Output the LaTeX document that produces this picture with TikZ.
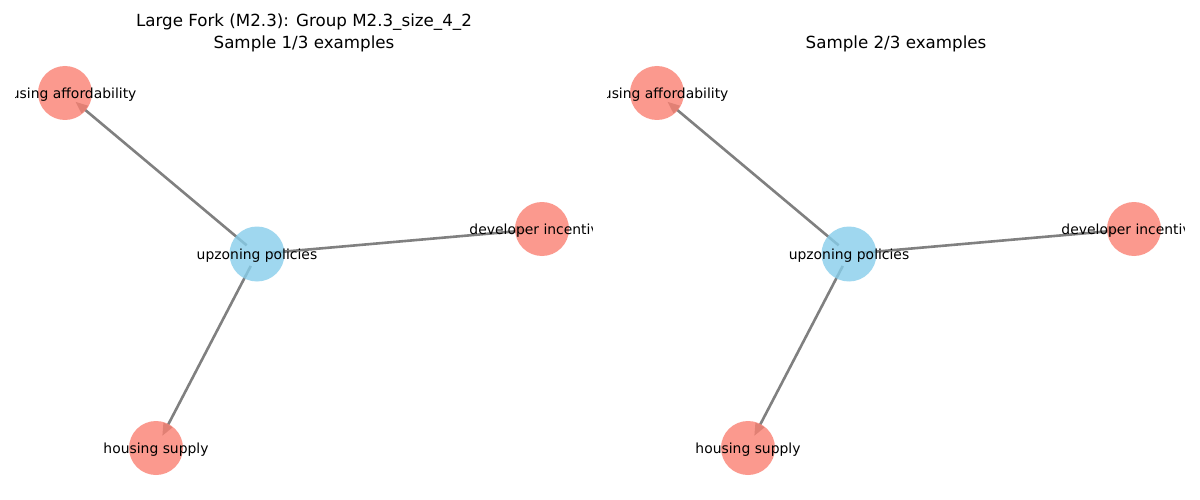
\documentclass[tikz,border=0pt]{standalone}
\usepackage{fontspec}
\setmainfont{DejaVu Sans}
\usetikzlibrary{arrows.meta}

\definecolor{effectred}{RGB}{250,128,114}
\definecolor{causeblue}{RGB}{135,206,235}
\definecolor{edgegray}{RGB}{128,128,128}

\tikzset{
  causal/.style={draw=edgegray, line width=2.6pt,
    -{Triangle[length=12.5pt, width=9.5pt]},
    shorten >=13.5pt, shorten <=13.5pt},
  effectnode/.style={circle, minimum size=54pt, inner sep=0pt,
    fill=effectred, fill opacity=0.8},
  causenode/.style={circle, minimum size=55pt, inner sep=0pt,
    fill=causeblue, fill opacity=0.8},
  lbl/.style={font=\fontsize{13.9pt}{16pt}\selectfont, text=black, inner sep=0pt, yshift=-1.5pt},
  ttl/.style={font=\fontsize{16.7pt}{20pt}\selectfont, text=black, inner sep=0pt, align=center}
}

\begin{document}
\begin{tikzpicture}[x=1pt, y=-1pt]
\useasboundingbox[fill=white] (0,0) rectangle (1200,500);

% panel titles
\node[ttl] (titleA1) at (304,22.5) {Large Fork (M2.3): Group M2.3\_size\_4\_2};
\node[ttl] (titleA2) at (304,43.5) {Sample 1/3 examples};
\node[ttl] (titleB) at (896,43.5) {Sample 2/3 examples};

% node centres of both panels
\foreach \p/\dx in {A/0, B/592} {
  \coordinate (up\p) at (257+\dx,254);
  \coordinate (aff\p) at (65+\dx,93);
  \coordinate (dev\p) at (542+\dx,229);
  \coordinate (sup\p) at (156+\dx,448);
}

% edges (drawn under the translucent nodes)
\foreach \p in {A,B} {
  \draw[causal] (up\p) -- (aff\p);
  \draw[causal] (up\p) -- (dev\p);
  \draw[causal] (up\p) -- (sup\p);
}

% nodes
\foreach \p in {A,B} {
  \node[causenode] (nup\p) at (up\p) {};
  \node[effectnode] (naff\p) at (aff\p) {};
  \node[effectnode] (ndev\p) at (dev\p) {};
  \node[effectnode] (nsup\p) at (sup\p) {};
}

% labels, clipped to each panel
\foreach \p/\xl/\xr in {A/15.5/592, B/607.5/1184} {
  \begin{scope}
    \clip (\xl,0) rectangle (\xr,500);
    \node[lbl] (lup\p) at (nup\p.center) {upzoning policies};
    \node[lbl] (laff\p) at (naff\p.center) {housing affordability};
    \node[lbl] (ldev\p) at (ndev\p.center) {developer incentives};
    \node[lbl] (lsup\p) at (nsup\p.center) {housing supply};
  \end{scope}
}
\end{tikzpicture}
\end{document}
